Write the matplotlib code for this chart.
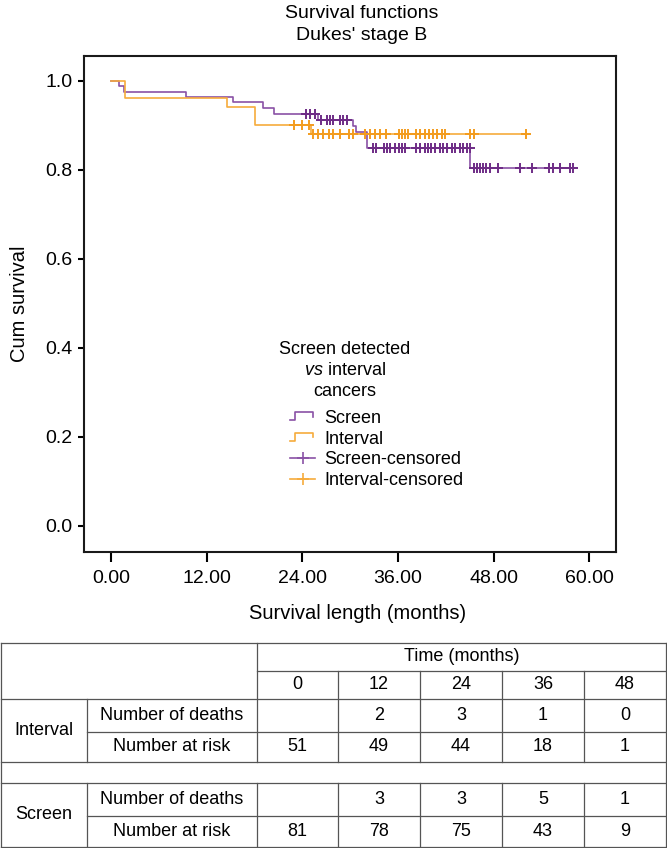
"""
Kaplan-Meier survival curves, Dukes' stage B: screen detected vs interval cancers,
with the numbers-at-risk table underneath.
"""

import matplotlib

matplotlib.use("Agg")

import matplotlib.pyplot as plt
import numpy as np
from matplotlib.legend_handler import HandlerBase, HandlerLine2D
from matplotlib.lines import Line2D

plt.rcParams["font.family"] = ["Liberation Sans", "DejaVu Sans"]
plt.rcParams["mathtext.fontset"] = "custom"
plt.rcParams["mathtext.rm"] = "Liberation Sans"
plt.rcParams["mathtext.it"] = "Liberation Sans:italic"

PURPLE = "#8a52a6"
PURPLE_DARK = "#6e2c86"
ORANGE = "#f6ab3c"
ORANGE_DARK = "#f39c1e"
GRID = "#555555"

# ---------- survival steps (months, cumulative survival) ----------
screen_times = [0, 1.0, 1.6, 9.4, 15.3, 19.1, 20.4, 26.0, 30.4, 30.8, 32.1, 45.1, 58.0]
screen_surv = [1.0, 0.988, 0.975, 0.963, 0.951, 0.938, 0.926, 0.912, 0.898, 0.884, 0.848, 0.803, 0.803]

interval_times = [0, 1.8, 14.5, 18.1, 25.1, 52.1]
interval_surv = [1.0, 0.961, 0.940, 0.900, 0.880, 0.880]

# ---------- censored observations (months) ----------
screen_censored = [
    24.5, 25.0, 25.6, 26.4, 27.1, 27.5, 27.9, 28.7, 29.1, 29.6,
    32.9, 33.3, 34.2, 34.6, 35.0, 35.6, 36.1, 36.5, 36.9, 38.3, 38.8, 39.4,
    39.8, 40.2, 40.6, 41.3, 41.7, 42.1, 42.8, 43.2, 43.8, 44.2, 44.7, 45.0,
    45.5, 45.9, 46.3, 46.7, 47.1, 47.5, 48.6, 51.3, 52.8, 54.9, 55.5, 56.3,
    57.6, 58.0,
]
interval_censored = [
    22.9, 23.9, 24.8, 25.4, 26.0, 26.6, 27.3, 27.9, 28.7, 29.8, 30.4, 31.9,
    32.5, 33.1, 33.8, 34.5, 36.1, 36.5, 36.9, 37.3, 38.3, 38.8, 39.4, 39.9,
    40.4, 40.9, 41.5, 41.9, 45.0, 45.5, 52.1,
]

# ---------- table ----------
table_times = ["0", "12", "24", "36", "48"]
interval_deaths = ["", "2", "3", "1", "0"]
interval_at_risk = ["51", "49", "44", "18", "1"]
screen_deaths = ["", "3", "3", "5", "1"]
screen_at_risk = ["81", "78", "75", "43", "9"]

x_ticks = [0, 12, 24, 36, 48, 60]
y_ticks = [0.0, 0.2, 0.4, 0.6, 0.8, 1.0]


def surv_at(t, times, surv):
    idx = np.searchsorted(times, t, side="right") - 1
    return np.asarray(surv)[idx]


class StepHandler(HandlerBase):
    def create_artists(self, legend, orig_handle, xdescent, ydescent,
                       width, height, fontsize, trans):
        x = np.array([0.0, 0.2, 0.2, 0.9, 0.9]) * width - xdescent
        y = np.array([0.2, 0.2, 0.85, 0.85, 0.5]) * height - ydescent
        line = Line2D(x, y, color=orig_handle.get_color(),
                      lw=orig_handle.get_linewidth())
        line.set_transform(trans)
        return [line]


W, H = 667, 848
fig = plt.figure(figsize=(W / 100, H / 100), dpi=100)

ax_l, ax_r, ax_t, ax_b = 84, 616, 55.7, 551.7
ax = fig.add_axes([ax_l / W, 1 - ax_b / H, (ax_r - ax_l) / W, (ax_b - ax_t) / H])

ax.step(screen_times, screen_surv, where="post", color=PURPLE, lw=1.2)
ax.step(interval_times, interval_surv, where="post", color=ORANGE, lw=1.2)
ax.plot(screen_censored, surv_at(screen_censored, screen_times, screen_surv),
        ls="none", marker="+", ms=7, mew=1.4, color=PURPLE_DARK)
ax.plot(interval_censored, surv_at(interval_censored, interval_times, interval_surv),
        ls="none", marker="+", ms=7, mew=1.4, color=ORANGE_DARK)

ax.set_xlim(-3.39, 63.36)
ax.set_ylim(-0.058, 1.056)
ax.set_xticks(x_ticks)
ax.set_xticklabels([f"{v:.2f}" for v in x_ticks])
ax.set_yticks(y_ticks)
ax.set_yticklabels([f"{v:.1f}" for v in y_ticks])
ax.tick_params(axis="x", length=7, width=1.5, pad=6, labelsize=14)
ax.tick_params(axis="y", length=4.5, width=1.5, pad=4, labelsize=14)
for s in ax.spines.values():
    s.set_linewidth(1.5)
    s.set_color("#1a1a1a")

ax.set_xlabel("Survival length (months)", fontsize=14.5)
ax.xaxis.set_label_coords((358 - ax_l) / (ax_r - ax_l), -0.105)
ax.set_ylabel("Cum survival", fontsize=14.5)
ax.yaxis.set_label_coords((29 - ax_l) / (ax_r - ax_l), 0.5)

fig.text(362 / W, 1 - 13 / H, "Survival functions", ha="center", va="center", fontsize=14)
fig.text(362 / W, 1 - 36 / H, "Dukes' stage B", ha="center", va="center", fontsize=14)

# ---------- legend ----------
tx = (345 - ax_l) / (ax_r - ax_l)
for label, ypx in [("Screen detected", 350), (r"$\it{vs}$ interval", 371), ("cancers", 392)]:
    ax.text(tx, (ax_b - ypx) / (ax_b - ax_t), label, transform=ax.transAxes,
            ha="center", va="center", fontsize=13)

h_screen = Line2D([], [], color=PURPLE, lw=1.2)
h_interval = Line2D([], [], color=ORANGE, lw=1.2)
h_sc = Line2D([], [], color=PURPLE, lw=1.2, marker="+", ms=9, mew=1.2)
h_ic = Line2D([], [], color=ORANGE, lw=1.2, marker="+", ms=9, mew=1.2)
ax.legend([h_screen, h_interval, h_sc, h_ic],
          ["Screen", "Interval", "Screen-censored", "Interval-censored"],
          handler_map={h_screen: StepHandler(), h_interval: StepHandler(),
                       h_sc: HandlerLine2D(numpoints=1), h_ic: HandlerLine2D(numpoints=1)},
          loc="upper left",
          bbox_to_anchor=((290 - ax_l) / (ax_r - ax_l), (ax_b - 410) / (ax_b - ax_t)),
          frameon=False, fontsize=13, borderpad=0, borderaxespad=0,
          handlelength=1.4, handletextpad=0.5, labelspacing=0.2)

# ---------- numbers at risk table ----------
tab_top = 643
tb = fig.add_axes([0, 0, 1, (H - tab_top + 1) / H])
tb.set_xlim(0, W)
tb.set_ylim(H, tab_top - 1)
tb.axis("off")

cols = [1, 87, 257, 338, 420, 502, 584, 666]
lk = dict(color=GRID, lw=0.9)

for y in [643, 699, 762, 783, 847]:
    tb.plot([cols[0], cols[-1]], [y, y], **lk)
tb.plot([cols[2], cols[-1]], [671, 671], **lk)
for y in [732, 816]:
    tb.plot([cols[1], cols[-1]], [y, y], **lk)

for x in [cols[0], cols[-1]]:
    tb.plot([x, x], [643, 847], **lk)
tb.plot([cols[2], cols[2]], [643, 762], **lk)
tb.plot([cols[2], cols[2]], [783, 847], **lk)
for x in cols[3:-1]:
    tb.plot([x, x], [671, 762], **lk)
    tb.plot([x, x], [783, 847], **lk)
tb.plot([cols[1], cols[1]], [699, 762], **lk)
tb.plot([cols[1], cols[1]], [783, 847], **lk)

fs = 13
tb.text((cols[2] + cols[-1]) / 2, 657, "Time (months)", ha="center", va="center", fontsize=fs)
centers = [(cols[i] + cols[i + 1]) / 2 for i in range(2, 7)]
for cx, lab in zip(centers, table_times):
    tb.text(cx, 685, lab, ha="center", va="center", fontsize=fs)

groups = [
    ("Interval", 699, 732, 762, interval_deaths, interval_at_risk),
    ("Screen", 783, 816, 847, screen_deaths, screen_at_risk),
]
for name, y0, ym, y1, deaths, at_risk in groups:
    tb.text((cols[0] + cols[1]) / 2, (y0 + y1) / 2, name, ha="center", va="center", fontsize=fs)
    tb.text((cols[1] + cols[2]) / 2, (y0 + ym) / 2, "Number of deaths",
            ha="center", va="center", fontsize=fs)
    tb.text((cols[1] + cols[2]) / 2, (ym + y1) / 2, "Number at risk",
            ha="center", va="center", fontsize=fs)
    for cx, d, r in zip(centers, deaths, at_risk):
        tb.text(cx, (y0 + ym) / 2, d, ha="center", va="center", fontsize=fs)
        tb.text(cx, (ym + y1) / 2, r, ha="center", va="center", fontsize=fs)

fig.savefig("out.png", dpi=100)
